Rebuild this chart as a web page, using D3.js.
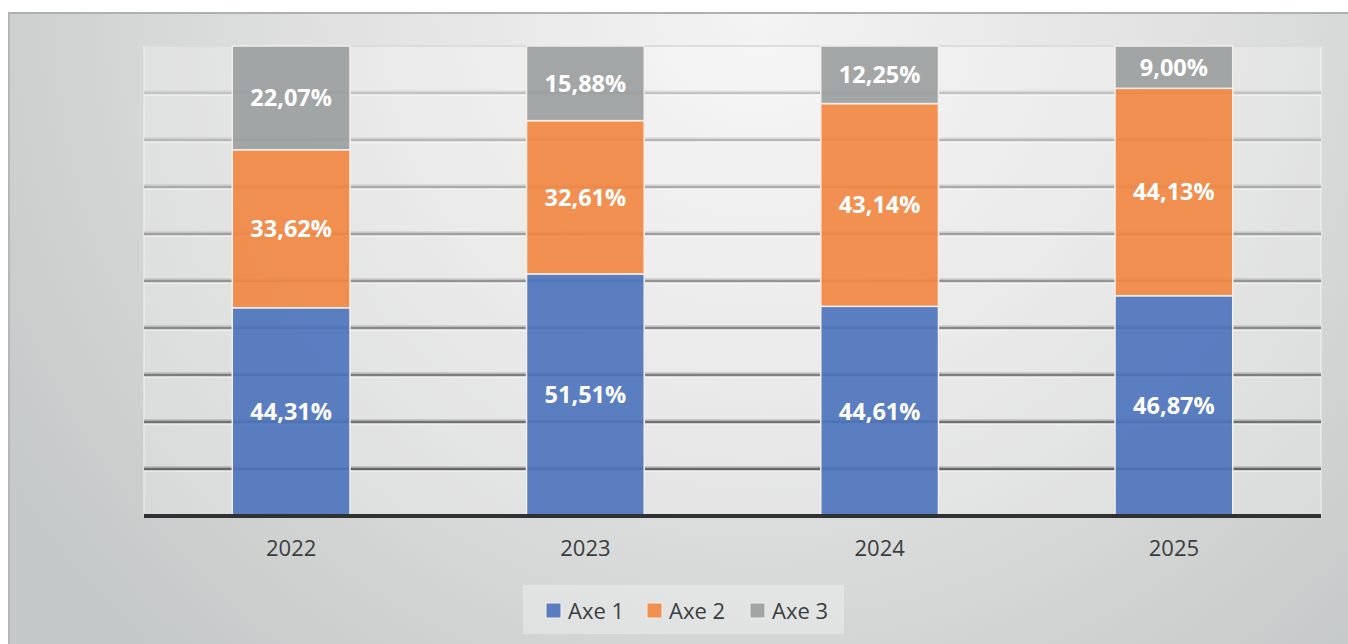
<!DOCTYPE html>
<html>
<head>
<meta charset="utf-8">
<script src="https://cdn.jsdelivr.net/npm/d3@7"></script>
<style>
  html, body { margin: 0; padding: 0; background: #ffffff; }
  svg { display: block; }
</style>
</head>
<body>
<svg id="chart" width="1348" height="644"></svg>
<script>
// Years shown along the x axis
const categories = ["2022", "2023", "2024", "2025"];
// Share of each axis per year, in percent
const seriesNames = ["Axe 1", "Axe 2", "Axe 3"];
const axe1 = [44.31, 51.51, 44.61, 46.87];
const axe2 = [33.62, 32.61, 43.14, 44.13];
const axe3 = [22.07, 15.88, 12.25, 9.00];
// Gridline levels (percent)
const gridTicks = [0, 10, 20, 30, 40, 50, 60, 70, 80, 90, 100];

const seriesValues = [axe1, axe2, axe3];
const colors = ["#4b72bc", "#f1853f", "#9a9d9d"];

const svg = d3.select("#chart");
const W = 1348, H = 644;
const plot = { left: 144, right: 1321, top: 46, bottom: 516 };

const defs = svg.append("defs");

// Chart background: soft radial sheen, lighter near the top centre
const bg = defs.append("radialGradient")
  .attr("id", "bgGrad")
  .attr("gradientUnits", "userSpaceOnUse")
  .attr("cx", 760).attr("cy", 0).attr("r", 900)
  .attr("fx", 760).attr("fy", 0);
bg.append("stop").attr("offset", "0%").attr("stop-color", "#f4f4f4");
bg.append("stop").attr("offset", "45%").attr("stop-color", "#e2e2e2");
bg.append("stop").attr("offset", "100%").attr("stop-color", "#c5c8c8");

svg.append("rect")
  .attr("x", 9).attr("y", 13)
  .attr("width", W - 9).attr("height", H - 13)
  .attr("fill", "url(#bgGrad)");

// Outer frame (top and left edges)
svg.append("line").attr("x1", 8).attr("x2", W).attr("y1", 13).attr("y2", 13)
  .attr("stroke", "#aeb1b1").attr("stroke-width", 2);
svg.append("line").attr("x1", 9).attr("x2", 9).attr("y1", 12).attr("y2", H)
  .attr("stroke", "#b4b7b7").attr("stroke-width", 2);

// Plot area: lighter panel with a faint border
svg.append("rect")
  .attr("x", plot.left).attr("y", plot.top)
  .attr("width", plot.right - plot.left).attr("height", plot.bottom - plot.top)
  .attr("fill", "#ffffff").attr("fill-opacity", 0.25)
  .attr("stroke", "#f2f2f2").attr("stroke-width", 1);

const x = d3.scaleBand()
  .domain(categories)
  .range([plot.left, plot.right])
  .paddingInner(0.6)
  .paddingOuter(0.3);

const y = d3.scaleLinear()
  .domain([0, 100])
  .range([plot.bottom, plot.top]);

// Gridlines: darker towards the bottom, with a soft highlight underneath
const gridShade = d3.scaleLinear().domain([100, 10]).range(["#cdcdcd", "#666666"]);
const grid = svg.append("g");
gridTicks.filter(t => t > 0 && t < 100).forEach(t => {
  const gy = y(t);
  grid.append("line")
    .attr("x1", plot.left).attr("x2", plot.right)
    .attr("y1", gy - 2).attr("y2", gy - 2)
    .attr("stroke", gridShade(t)).attr("stroke-opacity", 0.25).attr("stroke-width", 2);
  grid.append("line")
    .attr("x1", plot.left).attr("x2", plot.right)
    .attr("y1", gy + 2).attr("y2", gy + 2)
    .attr("stroke", "#ffffff").attr("stroke-opacity", 0.6).attr("stroke-width", 1.5);
  grid.append("line")
    .attr("x1", plot.left).attr("x2", plot.right)
    .attr("y1", gy).attr("y2", gy)
    .attr("stroke", gridShade(t)).attr("stroke-width", 2.4);
});
grid.append("line")
  .attr("x1", plot.left).attr("x2", plot.right)
  .attr("y1", y(100)).attr("y2", y(100))
  .attr("stroke", "#d6d6d6").attr("stroke-width", 1.5);

// Stack the series
const rows = categories.map((c, i) => {
  const r = { year: c };
  seriesNames.forEach((s, k) => { r[s] = seriesValues[k][i]; });
  return r;
});
const stacked = d3.stack().keys(seriesNames)(rows);

const fmt = v => v.toFixed(2).replace(".", ",") + "%";

const layers = svg.append("g").selectAll("g")
  .data(stacked)
  .join("g")
  .attr("fill", (d, i) => colors[i]);

layers.selectAll("rect")
  .data(d => d)
  .join("rect")
  .attr("x", d => x(d.data.year))
  .attr("width", x.bandwidth())
  .attr("y", d => y(d[1]))
  .attr("height", d => y(d[0]) - y(d[1]))
  .attr("fill-opacity", 0.9)
  .attr("stroke", "#f3eee8")
  .attr("stroke-width", 1.5);

// Value labels centred in each segment
const labels = svg.append("g");
stacked.forEach(layer => {
  layer.forEach(d => {
    labels.append("text")
      .attr("x", x(d.data.year) + x.bandwidth() / 2)
      .attr("y", (y(d[0]) + y(d[1])) / 2)
      .attr("dy", "0.36em")
      .attr("text-anchor", "middle")
      .attr("font-family", "'Open Sans', sans-serif")
      .attr("font-weight", "bold")
      .attr("font-size", 23.5)
      .attr("fill", "#ffffff")
      .text(fmt(d[1] - d[0]));
  });
});

// Baseline
svg.append("line")
  .attr("x1", plot.left).attr("x2", plot.right)
  .attr("y1", y(0)).attr("y2", y(0))
  .attr("stroke", "#2f3132").attr("stroke-width", 4);

// Category axis
const xAxis = svg.append("g")
  .attr("transform", `translate(0,${plot.bottom + 2})`)
  .call(d3.axisBottom(x).tickSize(0).tickPadding(22));
xAxis.select(".domain").remove();
xAxis.selectAll("text")
  .attr("font-family", "'Open Sans', sans-serif")
  .attr("font-size", 22)
  .attr("fill", "#3a3d40");

// Legend
const legend = svg.append("g");
legend.append("rect")
  .attr("x", 523).attr("y", 585).attr("width", 321).attr("height", 49)
  .attr("fill", "#ffffff").attr("fill-opacity", 0.3);
const legendX = [546, 647, 750];
seriesNames.forEach((s, i) => {
  legend.append("rect")
    .attr("x", legendX[i]).attr("y", 603).attr("width", 15).attr("height", 15)
    .attr("fill", colors[i]).attr("fill-opacity", 0.9)
    .attr("stroke", "#f3eee8").attr("stroke-width", 1);
  legend.append("text")
    .attr("x", legendX[i] + 22).attr("y", 619)
    .attr("font-family", "'Open Sans', sans-serif")
    .attr("font-size", 22)
    .attr("fill", "#3a3d40")
    .text(s);
});
</script>
</body>
</html>
